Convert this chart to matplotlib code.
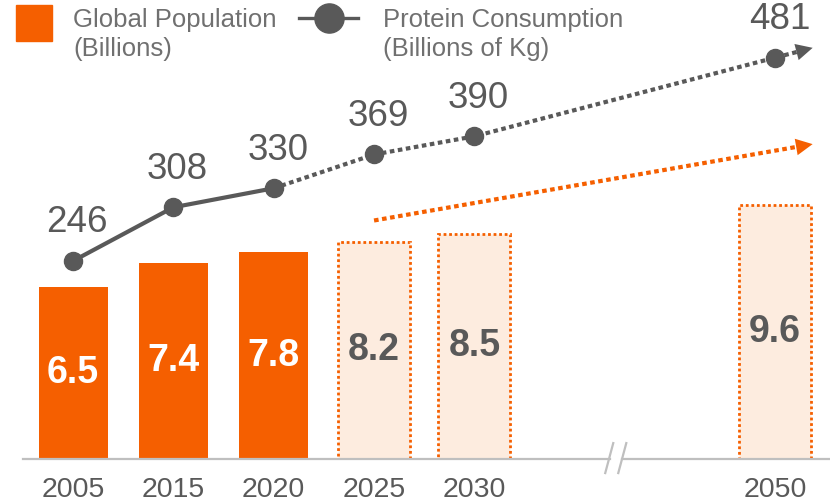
import matplotlib
matplotlib.use("Agg")
from matplotlib import pyplot as plt
import numpy as np

# chart data
years = ["2005", "2015", "2020", "2025", "2030", "2050"]
slots = [0, 1, 2, 3, 4, 7]          # 2050 sits after the axis break
population = [6.5, 7.4, 7.8, 8.2, 8.5, 9.6]
protein = [246, 308, 330, 369, 390, 481]
n_actual = 3                        # 2005-2020 are actuals, rest forecast

orange = "#F55F00"
faded = "#FDECDF"
grey = "#595959"
legend_grey = "#707070"
axis_grey = "#BFBFBF"
dots = (0, (1.1, 0.85))

plt.rcParams['font.family'] = ['Liberation Sans', 'DejaVu Sans']

W, H = 830, 503
fig = plt.figure(figsize=(W / 100, H / 100), dpi=100)
ax = fig.add_axes([23 / W, 44 / H, 807 / W, 459 / H])
ax.set_xlim(-0.5, 7.546)
ax.set_ylim(0, 17.32)

# bars
for i, (x, v) in enumerate(zip(slots, population)):
    if i < n_actual:
        ax.bar(x, v, width=0.69, color=orange, linewidth=0)
        ax.text(x, v / 2, f"{v}", ha="center", va="center", color="white",
                fontsize=27, fontweight="bold")
    else:
        ax.bar(x, v, width=0.72, color=faded, edgecolor=orange,
               linewidth=2.0, linestyle=(0, (1, 1)))
        ax.text(x, v / 2, f"{v}", ha="center", va="center", color=grey,
                fontsize=27, fontweight="bold")

# orange trend arrow over forecast bars
tx0, ty0 = slots[n_actual], population[n_actual] + 0.8
tx1, ty1 = slots[-1] + 0.4, population[-1] + 2.3
tslope = (ty1 - ty0) / (tx1 - tx0)
ax.plot([tx0, tx1 - 0.1], [ty0, ty1 - 0.1 * tslope],
        color=orange, lw=3.0, linestyle=dots, dash_capstyle="butt", clip_on=False)
ax.annotate("", xy=(tx1, ty1), xytext=(tx1 - 0.15, ty1 - 0.15 * tslope),
            arrowprops=dict(arrowstyle="-|>", mutation_scale=30, color=orange, lw=0),
            annotation_clip=False)

# baseline with break marks
brk = 5.41
ax.plot([-0.5, brk - 0.06], [0, 0], color=axis_grey, lw=1.6, clip_on=False)
ax.plot([brk + 0.06, 7.546], [0, 0], color=axis_grey, lw=1.6, clip_on=False)
for dx in (-0.065, 0.065):
    ax.plot([brk + dx - 0.04, brk + dx + 0.04], [-0.53, 0.6], color=axis_grey,
            lw=1.6, clip_on=False)

ax.set_xticks(slots)
ax.set_xticklabels(years, fontsize=20.5, color=grey)
ax.tick_params(axis="x", length=0, pad=13)
ax.set_yticks([])
for s in ax.spines.values():
    s.set_visible(False)

# protein line on its own scale
ax2 = ax.twinx()
ax2.set_ylim(17, 547.6)
ax2.set_yticks([])
for s in ax2.spines.values():
    s.set_visible(False)

ax2.plot(slots[:n_actual], protein[:n_actual], color=grey, lw=3)
pslope = (protein[-1] - protein[-2]) / (slots[-1] - slots[-2])
ex = slots[-1] + 0.4
ey = protein[-1] + 0.4 * pslope
fx = slots[n_actual - 1:] + [ex - 0.1]
fy = protein[n_actual - 1:] + [ey - 0.1 * pslope]
ax2.plot(fx, fy, color=grey, lw=3.0, linestyle=dots, dash_capstyle="butt", clip_on=False)
ax2.annotate("", xy=(ex, ey), xytext=(ex - 0.15, ey - 0.15 * pslope),
             arrowprops=dict(arrowstyle="-|>", mutation_scale=30, color=grey, lw=0),
             annotation_clip=False)
ax2.plot(slots, protein, linestyle="none", marker="o", ms=13, color=grey, clip_on=False)
for x, v in zip(slots, protein):
    ax2.annotate(f"{v}", (x, v), xytext=(3, 27.5), textcoords="offset points",
                 ha="center", va="center", fontsize=26.5, color=grey,
                 annotation_clip=False)

# legend drawn by hand, figure pixel coordinates
def fx_(px):
    return px / W

def fy_(py):
    return 1 - py / H

fig.patches.append(plt.Rectangle((fx_(16), fy_(41)), 36 / W, 36 / H, color=orange,
                                 transform=fig.transFigure))
fig.text(fx_(73), fy_(26.5), "Global Population", fontsize=18.5,
         color=legend_grey, va="baseline", ha="left")
fig.text(fx_(73), fy_(56), "(Billions)", fontsize=18.5,
         color=legend_grey, va="baseline", ha="left")
fig.lines.append(plt.Line2D([fx_(299), fx_(358)], [fy_(18), fy_(18)], color=grey, lw=2.4,
                            transform=fig.transFigure))
fig.lines.append(plt.Line2D([fx_(329)], [fy_(18)], marker="o", ms=21, color=grey,
                            transform=fig.transFigure))
fig.text(fx_(383), fy_(26.5), "Protein Consumption", fontsize=18.5,
         color=legend_grey, va="baseline", ha="left")
fig.text(fx_(383), fy_(56), "(Billions of Kg)", fontsize=18.5,
         color=legend_grey, va="baseline", ha="left")

fig.savefig("out.png", dpi=100)
